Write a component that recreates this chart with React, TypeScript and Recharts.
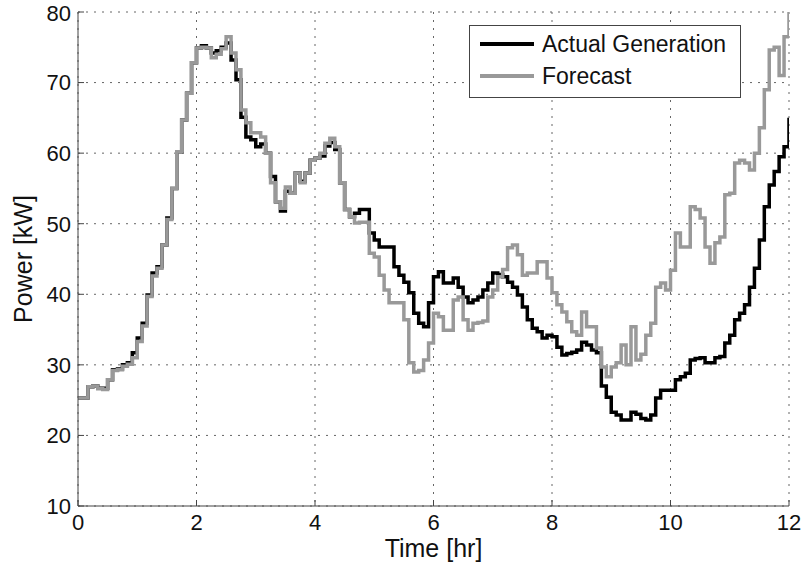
import React from 'react';
import { LineChart, Line, XAxis, YAxis, CartesianGrid, Legend } from 'recharts';

const FONT = '"Liberation Sans", Arial, Helvetica, sans-serif';

// 5-minute steps (hours per step)
const stepHours = 5 / 60;

const actualGeneration = [
  25.3, 25.3, 26.9, 27.0, 26.7, 26.7, 27.9, 29.3, 29.4, 30.0,
  30.3, 31.7, 33.8, 35.9, 39.9, 43.0, 43.9, 47.0, 50.8, 55.0,
  60.2, 64.7, 68.5, 72.8, 74.9, 75.2, 74.9, 74.2, 74.5, 75.0,
  75.6, 73.2, 70.4, 65.1, 62.3, 61.9, 60.9, 61.3, 60.0, 56.7,
  53.1, 51.8, 54.6, 54.3, 57.2, 56.0, 57.2, 59.0, 59.3, 59.6,
  61.0, 61.5, 60.5, 55.8, 52.0, 51.0, 51.5, 52.0, 52.0, 48.7,
  47.7, 46.7, 46.7, 46.7, 43.9, 42.7, 41.7, 40.2, 37.3, 35.9,
  35.4, 38.8, 42.5, 43.2, 41.6, 41.6, 42.3, 41.0, 39.6, 38.8,
  39.2, 39.6, 40.6, 41.6, 43.0, 42.8, 42.5, 41.7, 41.0, 39.9,
  38.2, 36.4, 35.2, 34.7, 33.8, 34.2, 34.0, 32.5, 31.4, 31.6,
  31.8, 32.1, 33.2, 32.8, 32.1, 31.7, 27.0, 25.4, 23.3, 22.9,
  22.2, 22.2, 23.3, 23.0, 22.4, 22.2, 22.9, 25.3, 26.4, 26.4,
  26.4, 27.9, 28.3, 28.8, 30.7, 30.9, 31.0, 30.3, 30.3, 31.0,
  31.2, 33.1, 34.2, 36.4, 37.3, 38.5, 41.0, 43.7, 47.7, 52.4,
  55.5, 57.4, 59.5, 60.9, 65.0,
];

const forecast = [
  25.3, 25.3, 26.9, 27.0, 26.6, 26.5, 27.9, 29.2, 29.3, 29.8,
  30.1, 31.0, 33.3, 35.5, 39.7, 42.6, 43.7, 47.0, 50.6, 55.0,
  60.2, 64.7, 68.5, 72.8, 74.9, 75.0, 74.9, 73.5, 74.0, 74.8,
  76.5, 74.2, 71.8, 66.1, 64.3, 62.9, 62.9, 62.3, 60.0, 55.8,
  53.1, 52.2, 55.2, 54.3, 57.2, 55.8, 57.2, 59.0, 59.3, 60.0,
  61.4, 62.1, 60.9, 55.8, 52.0, 51.0, 50.1, 50.2, 50.2, 45.8,
  45.3, 42.7, 40.6, 38.8, 38.8, 38.8, 36.4, 30.3, 29.0, 29.2,
  30.7, 33.1, 37.3, 36.8, 34.9, 34.9, 39.2, 39.6, 36.4, 34.9,
  35.9, 36.0, 36.2, 39.6, 40.6, 42.5, 43.5, 46.6, 47.0, 45.6,
  42.7, 43.0, 43.0, 44.6, 44.6, 42.3, 40.2, 38.5, 37.5, 36.1,
  34.7, 34.2, 37.5, 35.4, 35.4, 32.4, 29.7, 28.3, 29.7, 30.3,
  32.8, 30.0, 35.4, 30.7, 31.5, 34.2, 35.9, 41.0, 41.6, 40.6,
  43.4, 48.7, 46.7, 46.7, 52.4, 52.0, 50.8, 46.7, 44.4, 47.3,
  48.1, 54.1, 54.3, 58.6, 59.0, 58.6, 57.6, 60.0, 63.6, 69.0,
  74.6, 75.0, 71.0, 76.5, 80.0,
];

const xTicks = [0, 2, 4, 6, 8, 10, 12];
const yTicks = [10, 20, 30, 40, 50, 60, 70, 80];
const seriesNames = ['Actual Generation', 'Forecast'];
const axisLabels = { x: 'Time [hr]', y: 'Power [kW]' };

const data = actualGeneration.map((v, i) => ({
  t: i * stepHours,
  actual: v,
  forecast: forecast[i],
}));

const AXIS_COLOR = '#444';
const ACTUAL_COLOR = '#000000';
const FORECAST_COLOR = '#999999';

const LegendBox = () => (
  <div
    style={{
      width: 270,
      height: 69,
      border: '1px solid #444',
      background: '#fff',
      fontFamily: FONT,
      fontSize: 23,
      color: '#111',
      paddingTop: 2,
      boxSizing: 'content-box',
    }}
  >
    {[
      { name: seriesNames[0], color: ACTUAL_COLOR },
      { name: seriesNames[1], color: FORECAST_COLOR },
    ].map((it) => (
      <div key={it.name} style={{ height: 32, display: 'flex', alignItems: 'center' }}>
        <svg width={62} height={10} style={{ marginLeft: 10, display: 'block' }}>
          <line x1={0} y1={5} x2={54} y2={5} stroke={it.color} strokeWidth={4} />
        </svg>
        <span style={{ lineHeight: '32px', whiteSpace: 'nowrap' }}>{it.name}</span>
      </div>
    ))}
  </div>
);

export default function App() {
  const tickStyle = { fontFamily: FONT, fontSize: 22, fill: '#111' };
  return (
    <div style={{ position: 'absolute', left: 0, top: 0, background: '#fff' }}>
      <LineChart
        width={805}
        height={572}
        data={data}
        margin={{ top: 12, right: 16, bottom: 6, left: 10 }}
      >
        <CartesianGrid
          stroke="#666"
          strokeDasharray="2 6"
          strokeWidth={1}
          horizontalValues={yTicks}
          verticalValues={xTicks}
        />
        <XAxis
          dataKey="t"
          type="number"
          domain={[0, 12]}
          ticks={xTicks}
          allowDataOverflow
          height={60}
          tickSize={-6}
          tickMargin={14}
          stroke={AXIS_COLOR}
          tick={tickStyle}
          label={{
            value: axisLabels.x,
            position: 'insideBottom',
            offset: 9,
            style: { fontFamily: FONT, fontSize: 25, fill: '#111' },
          }}
        />
        <XAxis
          xAxisId="top"
          orientation="top"
          dataKey="t"
          type="number"
          domain={[0, 12]}
          ticks={xTicks}
          height={0}
          tickSize={-6}
          tick={false}
          stroke={AXIS_COLOR}
        />
        <YAxis
          type="number"
          domain={[10, 80]}
          ticks={yTicks}
          allowDataOverflow
          width={68}
          tickSize={-6}
          tickMargin={13}
          stroke={AXIS_COLOR}
          tick={tickStyle}
          label={{
            value: axisLabels.y,
            angle: -90,
            position: 'center',
            dx: -21,
            style: { fontFamily: FONT, fontSize: 25, fill: '#111', textAnchor: 'middle' },
          }}
        />
        <YAxis
          yAxisId="r"
          orientation="right"
          type="number"
          domain={[10, 80]}
          ticks={yTicks}
          width={0}
          tickSize={-6}
          tick={false}
          stroke={AXIS_COLOR}
        />
        <Line
          type="stepAfter"
          dataKey="actual"
          name={seriesNames[0]}
          stroke={ACTUAL_COLOR}
          strokeWidth={3.5}
          dot={false}
          activeDot={false}
          isAnimationActive={false}
        />
        <Line
          type="stepAfter"
          dataKey="forecast"
          name={seriesNames[1]}
          stroke={FORECAST_COLOR}
          strokeWidth={3.5}
          dot={false}
          activeDot={false}
          isAnimationActive={false}
        />
        <Legend
          layout="horizontal"
          verticalAlign="middle"
          align="center"
          content={() => <LegendBox />}
          wrapperStyle={{ position: 'absolute', left: 469, top: 25, width: 'auto', height: 'auto' }}
        />
      </LineChart>
    </div>
  );
}
